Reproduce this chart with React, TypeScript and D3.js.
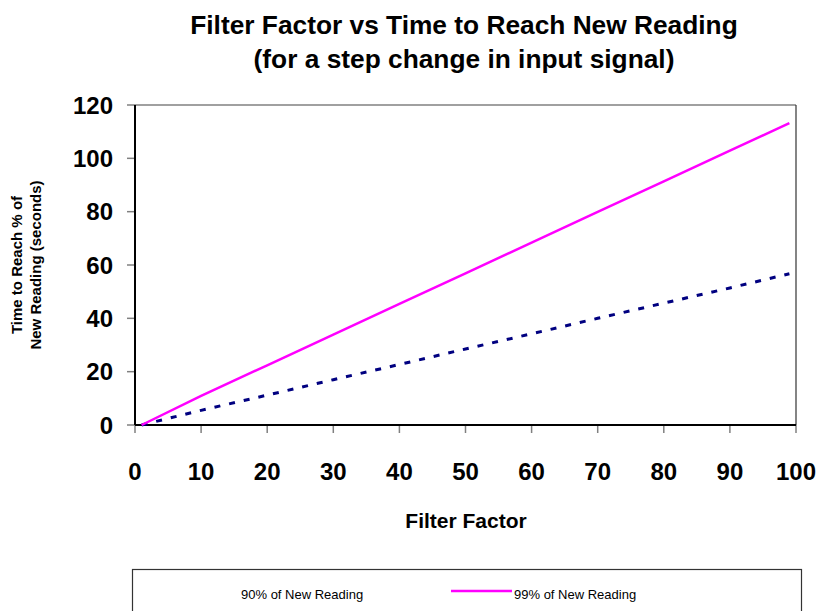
import React from "react";
import * as d3 from "d3";

const filterFactors = [1, 10, 20, 30, 40, 50, 60, 70, 80, 90, 99];
const time99 = [0, 10.9, 22.4, 33.9, 45.4, 56.9, 68.4, 79.9, 91.4, 102.9, 113.2];
const time90 = [0, 5.5, 11.2, 17.0, 22.7, 28.5, 34.2, 40.0, 45.7, 51.4, 56.7];
const xTicks = [0, 10, 20, 30, 40, 50, 60, 70, 80, 90, 100];
const yTicks = [0, 20, 40, 60, 80, 100, 120];
const seriesNames = ["90% of New Reading", "99% of New Reading"];

const W = 820;
const H = 611;
const left = 135;
const right = 796;
const top = 105;
const bottom = 425;
const font = "Arial, 'Liberation Sans', Helvetica, sans-serif";

export default function App() {
  const x = d3.scaleLinear().domain([0, 100]).range([left, right]);
  const y = d3.scaleLinear().domain([0, 120]).range([bottom, top]);
  const line = d3
    .line<[number, number]>()
    .x((d) => x(d[0]))
    .y((d) => y(d[1]));
  const d99 = line(filterFactors.map((f, i) => [f, time99[i]] as [number, number])) || "";
  const d90 = line(filterFactors.map((f, i) => [f, time90[i]] as [number, number])) || "";

  return (
    <svg
      width={W}
      height={H}
      style={{ position: "absolute", left: 0, top: 0 }}
      fontFamily={font}
    >
      <rect x={0} y={0} width={W} height={H} fill="#fff" />
      {/* title */}
      <text x={464} y={34} textAnchor="middle" fontSize={26.3} fontWeight="bold">
        Filter Factor vs Time to Reach New Reading
      </text>
      <text x={464} y={68} textAnchor="middle" fontSize={26.3} fontWeight="bold">
        (for a step change in input signal)
      </text>

      {/* plot border top/right */}
      <line x1={left} x2={right} y1={top} y2={top} stroke="#808080" strokeWidth={1.5} />
      <line x1={right} x2={right} y1={top} y2={bottom} stroke="#333" strokeWidth={1.2} />

      {/* y ticks */}
      {yTicks.map((t) => (
        <g key={"y" + t}>
          <line x1={left - 8} x2={left} y1={y(t)} y2={y(t)} stroke="#808080" strokeWidth={1.5} />
          <text
            x={left - 22}
            y={y(t)}
            dy="0.36em"
            textAnchor="end"
            fontSize={24}
            fontWeight="bold"
          >
            {t}
          </text>
        </g>
      ))}
      {/* x ticks */}
      {xTicks.map((t) => (
        <g key={"x" + t}>
          <line x1={x(t)} x2={x(t)} y1={bottom} y2={bottom + 8} stroke="#808080" strokeWidth={1.5} />
          <text x={x(t)} y={480} textAnchor="middle" fontSize={24} fontWeight="bold">
            {t}
          </text>
        </g>
      ))}

      {/* axes */}
      <line x1={left} x2={left} y1={top} y2={bottom} stroke="#000" strokeWidth={2} />
      <line x1={left} x2={right} y1={bottom} y2={bottom} stroke="#000" strokeWidth={2} />

      {/* series */}
      <path d={d90} fill="none" stroke="#000080" strokeWidth={3} strokeDasharray="6 9" />
      <path d={d99} fill="none" stroke="#FF00FF" strokeWidth={2.5} />

      {/* axis titles */}
      <text x={466} y={528} textAnchor="middle" fontSize={21} fontWeight="bold">
        Filter Factor
      </text>
      <g transform="translate(22,265) rotate(-90)">
        <text x={0} y={0} textAnchor="middle" fontSize={15} fontWeight="bold">
          Time to Reach % of
        </text>
        <text x={0} y={19} textAnchor="middle" fontSize={15} fontWeight="bold">
          New Reading (seconds)
        </text>
      </g>

      {/* legend */}
      <rect x={132.5} y={569.5} width={669} height={60} fill="#fff" stroke="#333" strokeWidth={1.2} />
      <text x={241} y={599} fontSize={13}>
        {seriesNames[0]}
      </text>
      <line x1={451} x2={512} y1={591} y2={591} stroke="#FF00FF" strokeWidth={2.5} />
      <text x={514} y={599} fontSize={13}>
        {seriesNames[1]}
      </text>
    </svg>
  );
}
